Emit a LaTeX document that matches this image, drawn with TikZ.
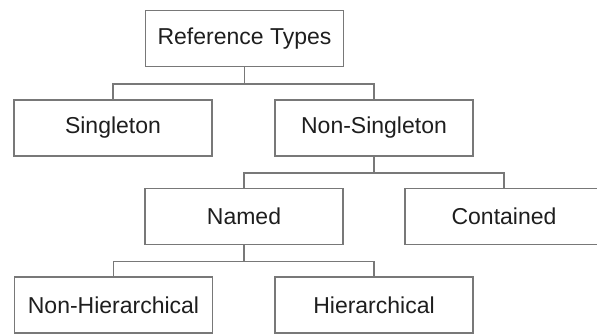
\documentclass[tikz,border=0pt]{standalone}
\usepackage{fontspec}
\setmainfont{Liberation Sans}
\usetikzlibrary{positioning}
\definecolor{boxgray}{RGB}{120,120,120}
\definecolor{txtgray}{RGB}{30,30,30}

\begin{document}
\begin{tikzpicture}[x=1pt,y=1pt,
            font=\fontsize{23}{27}\selectfont,
            typebox/.style={draw=boxgray,line width=1.6pt,text=txtgray,
                minimum width=198pt,minimum height=56pt,inner sep=0pt},
            link/.style={draw=boxgray,line width=1.6pt},
        ]
        \useasboundingbox (0,0) rectangle (597,-335);
        \node[typebox] (reftypes) at (244.5,-38.5) {Reference Types};
        \node[typebox] (singleton) at (113,-128) {Singleton};
        \node[typebox] (nonsingleton) at (374,-128) {Non-Singleton};
        \node[typebox] (named) at (244,-216.5) {Named};
        \node[typebox] (contained) at (504,-216.5) {Contained};
        \node[typebox] (nonhier) at (113.5,-305) {Non-Hierarchical};
        \node[typebox] (hier) at (374,-305) {Hierarchical};
        % level one
        \draw[link] (reftypes.south) -- ++(0,-16.5) -| (singleton.north);
        \draw[link] (reftypes.south) -- ++(0,-16.5) -| (nonsingleton.north);
        % level two
        \draw[link] (nonsingleton.south) -- ++(0,-16) -| (named.north);
        \draw[link] (nonsingleton.south) -- ++(0,-16) -| (contained.north);
        % level three
        \draw[link] (named.south) -- ++(0,-16) -| (nonhier.north);
        \draw[link] (named.south) -- ++(0,-16) -| (hier.north);
    \end{tikzpicture}
\end{document}
